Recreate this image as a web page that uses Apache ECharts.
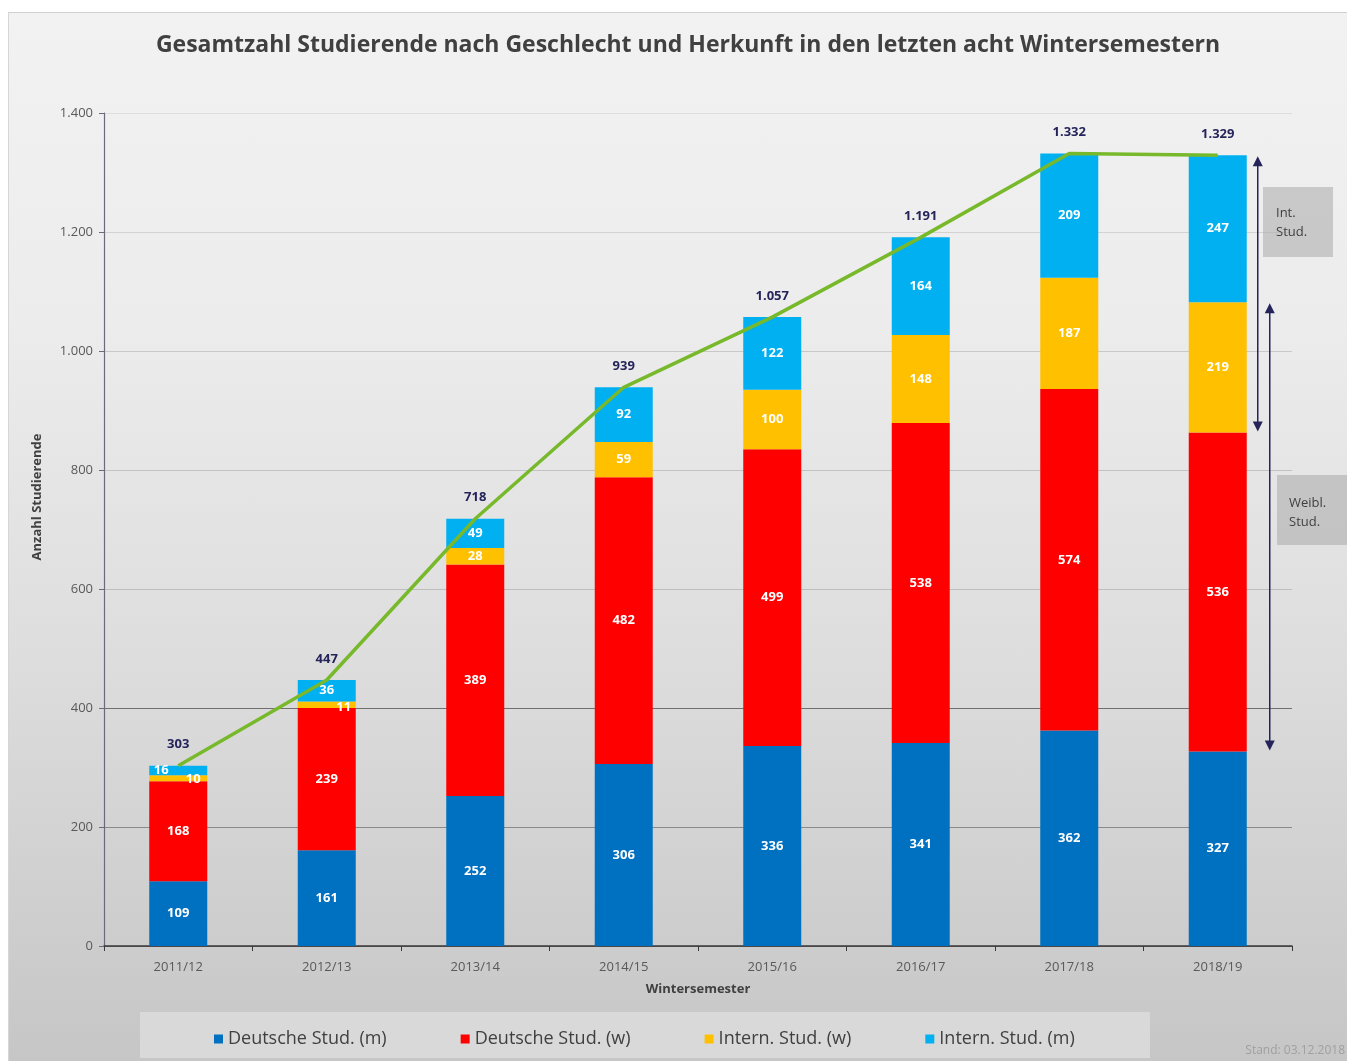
<!DOCTYPE html>
<html>
<head>
<meta charset="utf-8">
<script src="https://cdn.jsdelivr.net/npm/echarts@6/dist/echarts.min.js"></script>
<style>
  html, body { margin: 0; padding: 0; background: #ffffff; }
  #bg {
    position: absolute; left: 8px; top: 12px; width: 1339px; height: 1049px;
    border-top: 1px solid #cfcfcf; border-left: 1px solid #d6d6d6;
    background: linear-gradient(to bottom, #f2f2f2 0%, #ececec 30%, #dedede 60%, #cfcfcf 85%, #c6c6c6 100%);
  }
  #chart { position: absolute; left: 0; top: 0; width: 1347px; height: 1061px; }
</style>
</head>
<body>
<div id="bg"></div>
<div id="chart"></div>
<script>
const semesters = ["2011/12", "2012/13", "2013/14", "2014/15", "2015/16", "2016/17", "2017/18", "2018/19"];
const deutscheM = [109, 161, 252, 306, 336, 341, 362, 327];
const deutscheW = [168, 239, 389, 482, 499, 538, 574, 536];
const internW = [10, 11, 28, 59, 100, 148, 187, 219];
const internM = [16, 36, 49, 92, 122, 164, 209, 247];
const totals = [303, 447, 718, 939, 1057, 1191, 1332, 1329];
const yTicks = [0, 200, 400, 600, 800, 1000, 1200, 1400];

const deNum = (v) => String(v).replace(/\B(?=(\d{3})+(?!\d))/g, ".");
const font = "'Open Sans', 'Noto Sans', sans-serif";
const navy = "#25245a";

const last = semesters.length - 1;
// annotation spans on the last bar: international students, female students
const spans = [
  [last, deutscheM[last] + deutscheW[last], totals[last]],
  [last, deutscheM[last], deutscheM[last] + deutscheW[last] + internW[last]],
];

const segLabel = {
  show: true,
  position: "inside",
  color: "#ffffff",
  fontFamily: font,
  fontWeight: "bold",
  fontSize: 13,
};

// tiny segments of the first years have their labels moved aside
const withOffsets = (values, offsets) => values.map((v, i) => (
  offsets[i] ? { value: v, label: { offset: offsets[i] } } : v
));

const barSeries = (name, color, data) => ({
  name,
  type: "bar",
  stack: "total",
  barWidth: 58,
  data,
  itemStyle: { color },
  label: segLabel,
  emphasis: { disabled: true },
});

const chart = echarts.init(document.getElementById("chart"));

const option = {
  animation: false,
  backgroundColor: "transparent",
  textStyle: { fontFamily: font },
  title: {
    text: "Gesamtzahl Studierende nach Geschlecht und Herkunft in den letzten acht Wintersemestern",
    left: 683,
    textAlign: "center",
    top: 29,
    textStyle: { color: "#404040", fontSize: 23, fontWeight: "bold", fontFamily: font },
  },
  grid: { left: 104, right: 55, top: 113, bottom: 115 },
  legend: {
    left: 209,
    top: 1025,
    itemWidth: 9,
    itemHeight: 9,
    itemGap: 74,
    icon: "rect",
    textStyle: { color: "#404040", fontSize: 18, fontFamily: font },
    data: ["Deutsche Stud. (m)", "Deutsche Stud. (w)", "Intern. Stud. (w)", "Intern. Stud. (m)"],
  },
  xAxis: {
    type: "category",
    data: semesters,
    name: "Wintersemester",
    nameLocation: "middle",
    nameGap: 37,
    nameTextStyle: { color: "#404040", fontSize: 13, fontWeight: "bold" },
    axisLine: { lineStyle: { color: "#3a3a3a", width: 1.5 } },
    axisTick: { show: true, length: 5, lineStyle: { color: "#3a3a3a" } },
    axisLabel: { color: "#595959", fontSize: 13, margin: 15 },
  },
  yAxis: {
    type: "value",
    min: 0,
    max: 1400,
    interval: 200,
    axisLine: { show: true, lineStyle: { color: "#6a6a7a", width: 1.2 } },
    axisTick: { show: true, length: 5, lineStyle: { color: "#6a6a7a" } },
    axisLabel: { color: "#595959", fontSize: 13, margin: 11, formatter: deNum },
    splitLine: {
      lineStyle: {
        width: 1,
        color: ["#777777", "#8a8a8a", "#707070", "#bdbdbd", "#c2c2c2", "#c8c8c8", "#d2d2d2", "#dedede"],
      },
    },
  },
  series: [
    barSeries("Deutsche Stud. (m)", "#0070c0", deutscheM),
    barSeries("Deutsche Stud. (w)", "#ff0000", deutscheW),
    barSeries("Intern. Stud. (w)", "#ffc000", withOffsets(internW, { 0: [15, 1], 1: [17, 3] })),
    barSeries("Intern. Stud. (m)", "#00b0f0", withOffsets(internM, { 0: [-17, 0] })),
    {
      name: "Gesamt",
      type: "line",
      data: totals,
      symbol: "circle",
      symbolSize: 1,
      itemStyle: { color: "rgba(0,0,0,0)" },
      lineStyle: { color: "#78b92c", width: 3.5 },
      label: {
        show: true,
        position: "top",
        distance: 14,
        color: navy,
        fontFamily: font,
        fontWeight: "bold",
        fontSize: 13,
        formatter: (p) => deNum(p.value),
      },
      emphasis: { disabled: true },
      z: 5,
    },
    {
      name: "Spannen",
      type: "custom",
      data: spans,
      z: 6,
      renderItem: (params, api) => {
        const shift = params.dataIndex === 0 ? 40 : 52;
        const top = api.coord([api.value(0), api.value(2)]);
        const bottom = api.coord([api.value(0), api.value(1)]);
        const x = top[0] + shift;
        const y1 = top[1] + 1;
        const y2 = bottom[1] - 1;
        return {
          type: "group",
          children: [
            { type: "line", shape: { x1: x, y1: y1 + 8, x2: x, y2: y2 - 8 }, style: { stroke: navy, lineWidth: 1.5 } },
            { type: "polygon", shape: { points: [[x, y1], [x - 5, y1 + 10], [x + 5, y1 + 10]] }, style: { fill: navy } },
            { type: "polygon", shape: { points: [[x, y2], [x - 5, y2 - 10], [x + 5, y2 - 10]] }, style: { fill: navy } },
          ],
        };
      },
    },
  ],
  graphic: [
    { type: "rect", left: 140, top: 1012, shape: { width: 1010, height: 46 }, style: { fill: "#d9d9d9" }, z: -1 },
    {
      type: "text", x: 37, y: 497, rotation: Math.PI / 2,
      style: {
        text: "Anzahl Studierende", fill: "#404040", fontSize: 13, fontWeight: "bold",
        fontFamily: font, align: "center", verticalAlign: "middle",
      },
    },
    { type: "rect", left: 1263, top: 187, z: 10, shape: { width: 70, height: 70 }, style: { fill: "rgba(170,170,170,0.55)" } },
    {
      type: "text", left: 1276, top: 204, z: 11,
      style: { text: "Int.\nStud.", fill: "#404040", fontSize: 13, lineHeight: 19, fontFamily: font },
    },
    { type: "rect", left: 1277, top: 475, z: 10, shape: { width: 70, height: 70 }, style: { fill: "rgba(170,170,170,0.55)" } },
    {
      type: "text", left: 1289, top: 494, z: 11,
      style: { text: "Weibl.\nStud.", fill: "#404040", fontSize: 13, lineHeight: 19, fontFamily: font },
    },
    {
      type: "text", right: 2, top: 1045,
      style: { text: "Stand: 03.12.2018", fill: "#a0a0a0", fontSize: 12, fontFamily: font },
    },
  ],
};

chart.setOption(option);
</script>
</body>
</html>
